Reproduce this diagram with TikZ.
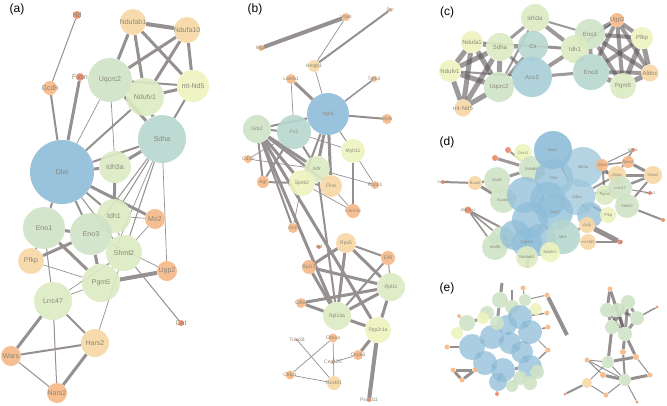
\documentclass[tikz,border=0pt]{standalone}
\usepackage{fontspec}
\setmainfont{Liberation Sans}
\usetikzlibrary{backgrounds}
\definecolor{cBlue}{HTML}{8FBDD9}
\definecolor{cBlueL}{HTML}{9CC6DA}
\definecolor{cAco}{HTML}{A8CFD8}
\definecolor{cTeal}{HTML}{B6D6CF}
\definecolor{cGreen}{HTML}{CFE3C6}
\definecolor{cLgreen}{HTML}{DCEAC3}
\definecolor{cYellow}{HTML}{EEF3BE}
\definecolor{cLorange}{HTML}{F8D8A4}
\definecolor{cOrange}{HTML}{F6B886}
\definecolor{cRed}{HTML}{EE8866}
\definecolor{labc}{HTML}{8A887C}
\definecolor{edgec}{HTML}{969090}
\definecolor{darkc}{HTML}{5E5858}
\tikzset{
 nd/.style={circle,inner sep=0pt,draw=none,fill opacity=0.9},
 kb/.style={nd,fill=cBlue},
 kbl/.style={nd,fill=cBlueL,fill opacity=0.75},
 kbb/.style={nd,fill=cBlue,fill opacity=0.75},
 ka/.style={nd,fill=cAco},
 kt/.style={nd,fill=cTeal},
 kg/.style={nd,fill=cGreen},
 kl/.style={nd,fill=cLgreen},
 ky/.style={nd,fill=cYellow},
 klo/.style={nd,fill=cLorange},
 ko/.style={nd,fill=cOrange},
 kr/.style={nd,fill=cRed},
 every label/.style={text=labc,inner sep=0pt,fill opacity=1,text opacity=1},
 ln/.style={draw=edgec,line width=#1pt},
 dk/.style={draw=darkc,line width=#1pt,draw opacity=0.6},
 plab/.style={font=\fontsize{12}{14}\selectfont,text=black,inner sep=0pt}
}
\newcommand\gn[5]{\node[#1,minimum size=#4pt,label={center:#5}] (#2) at (#3) {};}
\begin{document}
\begin{tikzpicture}[x=1pt,y=-1pt]
\useasboundingbox (0,0) rectangle (667,405);
\begin{scope}[on background layer]
\fill[white] (0,0) rectangle (667,405);
\end{scope}
\node[plab] (la) at (17,9) {(a)};
\node[plab] (lb) at (255,9) {(b)};
\node[plab] (lc) at (447,12) {(c)};
\node[plab] (ld) at (447,142) {(d)};
\node[plab] (le) at (447,288) {(e)};
% ---------------- (a)
\begin{scope}[every node/.append style={font=\fontsize{7}{8}\selectfont}]
\gn{kr}{aHd}{77,15}{8}{Hd}
\gn{ko}{aGcdh}{50,88}{14}{Gcdh}
\gn{kr}{aFasn}{80,77}{8}{Fasn}
\gn{klo}{aNdufab1}{133,22}{26}{Ndufab1}
\gn{klo}{aNdufa10}{187,30}{26}{Ndufa10}
\gn{kg}{aUqcrc2}{110,80}{44}{Uqcrc2}
\gn{kl}{aNdufv1}{145,97}{38}{Ndufv1}
\gn{ky}{amtNd5}{193,86}{32}{mt-Nd5}
\gn{kt}{aSdha}{162,139}{48}{Sdha}
\gn{kb}{aDlat}{62,172}{64}{Dlat}
\gn{kl}{aIdh3a}{115,167}{32}{Idh3a}
\gn{kg}{aEno1}{44,228}{42}{Eno1}
\gn{kl}{aIdh1}{114,216}{34}{Idh1}
\gn{kg}{aEno3}{91,234}{42}{Eno3}
\gn{ko}{aMe2}{155,219}{20}{Me2}
\gn{kl}{aShmt2}{124,253}{36}{Shmt2}
\gn{klo}{aPfkp}{31,261}{26}{Pfkp}
\gn{ko}{aUgp2}{167,271}{20}{Ugp2}
\gn{kl}{aPgm5}{101,283}{38}{Pgm5}
\gn{kl}{aLrrc47}{53,301}{38}{Lrrc47}
\gn{kr}{aCat}{181,323}{6}{Cat}
\gn{klo}{aHars2}{95,343}{28}{Hars2}
\gn{ko}{aWars}{11,356}{20}{Wars}
\gn{ko}{aNars2}{57,393}{20}{Nars2}
\end{scope}
% ---------------- (b)
\begin{scope}[every node/.append style={font=\fontsize{5}{6}\selectfont}]
\gn{ko}{bMgp}{261,48}{6}{Mgp}
\gn{ko}{bVcan}{346,17}{8}{Vcan}
\gn{ko}{bSrc}{390,10}{4}{Src}
\gn{klo}{bHmgb1}{314,66}{12}{Hmgb1}
\gn{ko}{bLamb1}{291,79}{10}{Lamb1}
\gn{ko}{bTgfb3}{374,79}{6}{Tgfb3}
\gn{kb}{bItgb1}{328,114}{42}{Itgb1}
\gn{ko}{bMylk}{387,119}{10}{Mylk}
\gn{kg}{bGrb2}{257,129}{28}{Grb2}
\gn{kt}{bFn1}{294,132}{34}{Fn1}
\gn{ky}{bMyh11}{353,151}{24}{Myh11}
\gn{ko}{bCd36}{248,159}{8}{Cd36}
\gn{kl}{bKdr}{317,169}{26}{Kdr}
\gn{ko}{bAgt}{263,182}{12}{Agt}
\gn{ky}{bSpnb2}{302,183}{26}{Spnb2}
\gn{klo}{bFlna}{331,186}{22}{Flna}
\gn{ko}{bRbpo1}{375,185}{8}{Rbpo1}
\gn{ko}{bCoro1c}{353,211}{14}{Coro1c}
\gn{ko}{bGsn}{293,228}{10}{Gsn}
\gn{kr}{bArf}{319,247}{4}{Arf}
\gn{klo}{bRps5}{346,243}{20}{Rps5}
\gn{ko}{bEif6}{388,258}{14}{Eif6}
\gn{ko}{bRpl12}{309,267}{14}{Rpl12}
\gn{kl}{bRpl11}{391,287}{28}{Rpl11}
\gn{ko}{bCd68}{301,303}{10}{Cd68}
\gn{kl}{bRpl13a}{337,316}{28}{Rpl13a}
\gn{ky}{bPpp2r1a}{378,330}{26}{Ppp2r1a}
\gn{kr}{bTrim28}{297,340}{3}{Trim28}
\gn{ko}{bCbx1a}{333,338}{9}{Cbx1a}
\gn{ko}{bCep63}{358,355}{10}{Cep63}
\gn{kr}{bCep120}{333,362}{3}{Cep120}
\gn{ko}{bCfdp1}{290,375}{9}{Cfdp1}
\gn{klo}{bRuvbl1}{334,383}{14}{Ruvbl1}
\gn{kr}{bPsmd11}{369,400}{4}{Psmd11}
\end{scope}
% ---------------- (c)
\begin{scope}[every node/.append style={font=\fontsize{6}{7}\selectfont,fill opacity=0.8}]
\gn{kl}{cIdh3a}{535,18}{28}{Idh3a}
\gn{ko}{cUgp2}{617,20}{14}{Ugp2}
\gn{ky}{cNdufa1}{472,42}{22}{Ndufa1}
\gn{kl}{cSdha}{500,47}{28}{Sdha}
\gn{kt}{cCs}{533,46}{30}{Cs}
\gn{kg}{cEno1}{590,34}{30}{Eno1}
\gn{kl}{cIdh1}{575,49}{28}{Idh1}
\gn{ky}{cPfkp}{642,38}{22}{Pfkp}
\gn{ky}{cNdufv1}{450,71}{22}{Ndufv1}
\gn{ka}{cAco2}{532,77}{40}{Aco2}
\gn{kt}{cEno3}{591,72}{36}{Eno3}
\gn{kg}{cUqcrc2}{499,87}{30}{Uqcrc2}
\gn{kl}{cPgm5}{623,86}{26}{Pgm5}
\gn{klo}{cAldoc}{650,73}{17}{Aldoc}
\gn{klo}{cmtNd5}{463,108}{17}{mt-Nd5}
\end{scope}
% ---------------- (d)
\begin{scope}[every node/.append style={font=\fontsize{4}{5}\selectfont}]
\gn{kr}{dr1}{508,150}{6}{}
\gn{kr}{dr2}{495,158}{6}{}
\gn{ky}{dOxct1}{523,153}{18}{Oxct1}
\gn{kg}{dGcdh}{497,180}{26}{Gcdh}
\gn{kg}{dBck}{532,169}{26}{Bckdhb}
\gn{klo}{dBcat2}{475,183}{14}{Bcat2}
\gn{kr}{dAcaa1}{443,182}{4}{Acaa1}
\gn{kg}{dAcadvl}{503,200}{26}{Acadvl}
\gn{kr}{dAldh1a1}{468,210}{7}{Aldh1a1}
\gn{kg}{dAcat1}{502,238}{24}{Acat1}
\gn{kg}{dAtp5h}{495,247}{26}{Atp5h}
\gn{kbb}{db1}{525,195}{36}{}
\gn{kbb}{dDlat}{554,178}{38}{Dlat}
\gn{kbl}{dIdh3a}{583,167}{40}{Idh3a}
\gn{kbb}{db2}{548,200}{36}{}
\gn{kbb}{db3}{530,220}{36}{}
\gn{kbb}{db4}{515,235}{30}{}
\gn{kbb}{db5}{540,240}{32}{}
\gn{kbb}{dCs}{590,215}{26}{}
\gn{kbl}{dSdha}{577,197}{36}{Sdha}
\gn{kbb}{dAco2}{555,212}{36}{Aco2}
\gn{kbb}{dUqcrc2}{527,243}{30}{Uqcrc2}
\gn{kt}{dIdh1}{563,237}{34}{Idh1}
\gn{kl}{dNdufab1}{527,257}{22}{Ndufab1}
\gn{ky}{dNdufv1}{550,252}{20}{Ndufv1}
\gn{kb}{dEno1}{553,150}{38}{Eno1}
\gn{kr}{dAldh1}{633,150}{4}{Aldh1}
\gn{ko}{dWars}{602,165}{12}{Wars}
\gn{ko}{dNars2}{628,162}{12}{Nars2}
\gn{klo}{dAldoc}{617,175}{18}{Aldoc}
\gn{klo}{dHars2}{653,175}{18}{Hars2}
\gn{kl}{dPgm5}{605,195}{20}{Pgm5}
\gn{kg}{dLrrc47}{620,188}{24}{Lrrc47}
\gn{kr}{dAcss1}{650,193}{4}{Acss1}
\gn{kg}{dShmt2}{627,206}{24}{Shmt2}
\gn{ky}{dPfkp}{608,215}{16}{Pfkp}
\gn{kr}{drR}{663,220}{4}{}
\gn{klo}{dAcly}{587,225}{16}{Acly}
\gn{klo}{dmtNd5}{588,242}{16}{mt-Nd5}
\gn{kr}{dCat}{620,242}{5}{Cat}
\end{scope}
% ---------------- (e) left
\begin{scope}
\gn{kg}{eg1}{500,300}{16}{}
\gn{kg}{eg2}{512,307}{14}{}
\gn{kg}{eg3}{487,313}{14}{}
\gn{kg}{eg4}{467,323}{16}{}
\gn{kg}{eg10}{525,300}{12}{}
\gn{ky}{ey1}{457,333}{12}{}
\gn{ky}{ey2}{483,318}{12}{}
\gn{ky}{ey3}{536,309}{12}{}
\gn{kbb}{eb1}{472,347}{26}{}
\gn{kbb}{eb2}{492,337}{24}{}
\gn{kbb}{eb11}{507,325}{20}{}
\gn{kg}{eg5}{497,323}{14}{}
\gn{kbb}{eb3}{520,317}{24}{}
\gn{kbb}{eb4}{530,332}{24}{}
\gn{kbb}{eb5}{510,343}{22}{}
\gn{kbb}{eb6}{522,352}{22}{}
\gn{kbb}{eb7}{485,363}{24}{}
\gn{kbb}{eb8}{503,370}{24}{}
\gn{kbb}{eb9}{530,367}{24}{}
\gn{kbb}{eb10}{498,382}{18}{}
\gn{kg}{eg6}{520,378}{14}{}
\gn{kg}{eg7}{530,383}{14}{}
\gn{kg}{eg8}{512,386}{12}{}
\gn{kg}{eg9}{537,372}{14}{}
\gn{ko}{eo1}{447,347}{5}{}
\gn{ko}{eo2}{453,370}{5}{}
\gn{ko}{eo3}{462,380}{5}{}
\gn{ko}{eo4}{475,370}{5}{}
\gn{ko}{eo5}{547,295}{5}{}
\gn{ko}{eo6}{547,313}{5}{}
\gn{ko}{eo7}{548,327}{5}{}
\gn{ko}{eo8}{548,350}{5}{}
\gn{ko}{eo9}{523,288}{5}{}
\gn{kr}{eo10}{497,394}{4}{}
\gn{ko}{eo11}{459,316}{4}{}
\coordinate (ebar) at (567,335);
\coordinate (etop) at (502,283);
\coordinate (etop2) at (512,290);
% (e) right
\gn{kg}{fr1}{607,310}{14}{}
\gn{kg}{fr2}{618,310}{14}{}
\gn{kg}{fr3}{628,302}{14}{}
\gn{kg}{fr4}{637,318}{14}{}
\gn{kg}{fr5}{612,327}{14}{}
\gn{kg}{fr6}{625,334}{14}{}
\gn{kg}{fr7}{608,362}{12}{}
\gn{kg}{fr8}{625,380}{12}{}
\gn{ko}{fo1}{610,289}{5}{}
\gn{kr}{fo2}{657,307}{3}{}
\gn{ko}{fo3}{587,360}{5}{}
\gn{ko}{fo4}{623,352}{6}{}
\gn{ko}{fo5}{636,357}{6}{}
\gn{ko}{fo6}{650,375}{5}{}
\gn{ko}{fo7}{603,375}{6}{}
\gn{klo}{fo8}{587,383}{10}{}
\gn{kr}{fo9}{565,394}{3}{}
\gn{ko}{fo10}{606,395}{5}{}
\gn{kr}{fo11}{637,402}{3}{}
\end{scope}
% ================= edges
\begin{scope}[on background layer]
\foreach \p/\q/\w in {aHd/aGcdh/1, aGcdh/aDlat/2, aFasn/aDlat/3,
 aNdufab1/aNdufa10/4, aNdufab1/aUqcrc2/3, aNdufab1/aNdufv1/3, aNdufab1/amtNd5/3,
 aNdufa10/aUqcrc2/3, aNdufa10/aNdufv1/3, aNdufa10/amtNd5/3, aUqcrc2/aNdufv1/3,
 aUqcrc2/amtNd5/2, aNdufv1/amtNd5/3, aUqcrc2/aSdha/3, aNdufv1/aSdha/3, amtNd5/aSdha/2,
 aUqcrc2/aDlat/0.7, aUqcrc2/aIdh3a/0.7, aNdufv1/aDlat/2, aSdha/aDlat/2, aSdha/aIdh3a/3,
 aSdha/aIdh1/1, aSdha/aShmt2/1, aSdha/aEno3/1, aSdha/aPgm5/0.7, aSdha/aUgp2/0.7,
 aDlat/aIdh3a/3, aDlat/aEno1/2, aDlat/aEno3/2, aDlat/aIdh1/2, aDlat/aShmt2/1, aDlat/aMe2/3,
 aIdh3a/aIdh1/3, aIdh1/aEno3/0.7, aIdh1/aMe2/0.7, aIdh1/aShmt2/1,
 aEno1/aEno3/3, aEno1/aPfkp/2, aEno1/aPgm5/3, aEno1/aLrrc47/1, aEno3/aPfkp/3, aEno3/aPgm5/3,
 aEno3/aShmt2/0.7, aEno3/aUgp2/0.7, aPfkp/aPgm5/0.7, aShmt2/aPgm5/1, aShmt2/aLrrc47/0.7,
 aShmt2/aCat/1, aShmt2/aHars2/0.7, aPgm5/aUgp2/4, aMe2/aShmt2/0.7, aPgm5/aLrrc47/0.7,
 aLrrc47/aWars/3, aLrrc47/aHars2/2, aLrrc47/aNars2/1, aWars/aHars2/2, aWars/aNars2/1, aHars2/aNars2/3}
 \draw[ln=\w] (\p)--(\q);
\foreach \p/\q/\w in {bMgp/bVcan/4, bVcan/bHmgb1/0.7, bSrc/bHmgb1/2, bHmgb1/bItgb1/0.7,
 bLamb1/bItgb1/3, bLamb1/bFn1/0.7, bTgfb3/bItgb1/1.5, bItgb1/bMylk/2, bItgb1/bGrb2/2,
 bItgb1/bFn1/3, bItgb1/bMyh11/1, bItgb1/bKdr/3, bItgb1/bSpnb2/2, bItgb1/bFlna/3,
 bGrb2/bFn1/2, bGrb2/bKdr/3, bGrb2/bSpnb2/3, bGrb2/bFlna/2.5, bGrb2/bAgt/2, bGrb2/bGsn/2,
 bCd36/bFn1/0.7, bFn1/bAgt/2, bFn1/bKdr/2, bFn1/bMyh11/0.7, bCd36/bKdr/0.7,
 bKdr/bSpnb2/2, bKdr/bFlna/2, bKdr/bRbpo1/0.7, bMyh11/bRbpo1/0.7, bMyh11/bCoro1c/2,
 bAgt/bSpnb2/2, bSpnb2/bFlna/2, bSpnb2/bCoro1c/0.7, bFlna/bCoro1c/0.7, bGsn/bSpnb2/0.7,
 bGrb2/bRpl13a/3, bGrb2/bPpp2r1a/3, bKdr/bRpl13a/2,
 bRps5/bRpl12/3, bRps5/bEif6/2, bRps5/bRpl11/3, bRps5/bRpl13a/3, bRpl12/bRpl11/3,
 bRpl12/bRpl13a/3, bEif6/bRpl11/1, bEif6/bRpl13a/2, bCd68/bRpl11/3, bCd68/bRpl13a/3,
 bRpl13a/bRpl11/3, bRpl13a/bPpp2r1a/3, bRpl11/bPpp2r1a/3, bPpp2r1a/bCep63/3,
 bPpp2r1a/bPsmd11/4, bTrim28/bRuvbl1/0.7, bCbx1a/bCfdp1/0.7, bCbx1a/bRuvbl1/0.7,
 bCfdp1/bRuvbl1/0.7, bCep120/bCep63/0.7}
 \draw[ln=\w] (\p)--(\q);
\foreach \p/\q/\w in {cNdufa1/cNdufv1/5, cNdufa1/cmtNd5/5, cNdufa1/cSdha/5, cNdufa1/cUqcrc2/5,
 cNdufv1/cmtNd5/5, cNdufv1/cSdha/5, cNdufv1/cUqcrc2/5, cmtNd5/cSdha/5, cmtNd5/cUqcrc2/5,
 cSdha/cUqcrc2/5, cUgp2/cPfkp/4, cUgp2/cAldoc/4, cUgp2/cPgm5/4, cUgp2/cEno3/4,
 cPfkp/cAldoc/5, cPfkp/cPgm5/5, cPfkp/cEno3/4, cAldoc/cPgm5/5, cAldoc/cEno3/4,
 cAldoc/cEno1/4, cPgm5/cEno1/4, cPgm5/cEno3/5, cEno1/cEno3/4, cUgp2/cEno1/4, cPfkp/cEno1/4,
 cSdha/cCs/4, cSdha/cIdh3a/3, cCs/cIdh3a/4, cCs/cAco2/4, cIdh3a/cIdh1/4, cAco2/cIdh1/4,
 cCs/cIdh1/3, cAco2/cEno3/3, cIdh1/cEno3/4, cIdh1/cEno1/4, cUqcrc2/cAco2/3, cUqcrc2/cCs/3,
 cSdha/cAco2/3, cIdh3a/cEno1/2, cIdh1/cUgp2/2, cNdufv1/cAco2/2, cUqcrc2/cIdh3a/2}
 \draw[dk=\w] (\p)--(\q);
\draw[ln=1.5] (cNdufa1)--(cIdh1);
\foreach \p/\q/\w in {dAcaa1/dBcat2/2, dBcat2/dGcdh/2.5, dBcat2/dAcadvl/3, dAldh1a1/dAcat1/1.5,
 dAldh1a1/dAtp5h/1.5, dAldh1a1/db4/2, dAldh1/dWars/1, dAldh1/dAldoc/1.5, dNars2/dHars2/3,
 dAldoc/dHars2/3, dLrrc47/dHars2/2.5, dShmt2/dHars2/2, dLrrc47/dAcss1/1, dShmt2/drR/2,
 dAcly/dCat/5, dmtNd5/dCat/2, dWars/dNars2/1.5, dAldoc/dLrrc47/2}
 \draw[ln=\w] (\p)--(\q);
\foreach \p/\q/\w in {dr1/dBck/2, dr2/dBck/3, dOxct1/dBck/2, dGcdh/dBck/3, dGcdh/db1/3,
 dAcadvl/db1/3, dWars/dIdh3a/3, dAldoc/dIdh3a/3, dAldoc/dSdha/2, dLrrc47/dSdha/2,
 dPgm5/dSdha/3, dPfkp/dSdha/2, dAcly/dIdh1/3, dmtNd5/dIdh1/3, dNdufab1/dUqcrc2/3,
 dNdufv1/dIdh1/3, dEno1/db1/2, dEno1/dSdha/2, db2/db3/3, dDlat/db3/2, dUqcrc2/dAco2/2,
 dAtp5h/dUqcrc2/2, dAcat1/db4/2, dAco2/dIdh1/2, dCs/dSdha/2, dWars/dPgm5/2, dWars/dLrrc47/2,
 dBck/dDlat/3, db1/dAco2/2, db3/dIdh1/2, db5/dNdufv1/2, dGcdh/dAcadvl/2}
 \draw[dk=\w] (\p)--(\q);
\foreach \p/\q/\w in {eo2/eo3/3, eo3/eo4/3, eo2/eo4/3, eo5/ebar/4, etop/eg1/3, etop2/eg2/2,
 eo9/eg10/1, eo5/eg10/1, eo6/eb3/1.5, eo7/eb4/1.5, eo8/eb9/1.5, eo1/eb1/2, eo11/eg4/1,
 eo10/eb10/1, ey1/eg4/1, eo8/eb4/1, eo4/eb7/1}
 \draw[ln=\w] (\p)--(\q);
\foreach \p/\q/\w in {eb1/eb2/3, eb2/eb5/3, eb5/eb6/3, eb3/eb4/3, eb4/eb6/3, eb7/eb8/3,
 eb8/eb9/3, eb6/eb9/3, eb11/eb5/3, eg2/eb11/3, eg1/eg5/3, eg3/ey2/3, eg4/ey2/3, eg6/eg7/4,
 eg6/eg8/4, eg7/eg9/4, eb8/eg6/3, eb9/eg9/3, eb7/eb1/3, eb10/eb8/3, ey3/eb3/3, eg5/eb11/3}
 \draw[dk=\w] (\p)--(\q);
\foreach \p/\q/\w in {fo1/fr1/3, fo1/fr6/3, fr4/fo2/1.5, fr5/fr7/3, fr6/fo4/3, fr6/fo5/3,
 fo4/fr8/2, fr7/fo3/1, fr7/fo5/3, fr7/fr8/1, fr8/fo6/3, fr8/fo7/3, fr7/fo8/1, fo8/fo9/2,
 fo8/fo10/1, fo10/fr8/1, fr8/fo11/1, fo3/fr8/1, fo5/fo6/1, fo3/fo7/1}
 \draw[ln=\w] (\p)--(\q);
\foreach \p/\q/\w in {fr1/fr2/3, fr2/fr3/3, fr3/fr4/3, fr4/fr6/3, fr5/fr6/3, fr1/fr5/3,
 fr2/fr5/3, fr2/fr6/3, fr3/fr6/3, fr2/fr4/3, fr1/fr6/2, fr3/fr5/2}
 \draw[dk=\w] (\p)--(\q);
\end{scope}
\end{tikzpicture}
\end{document}
